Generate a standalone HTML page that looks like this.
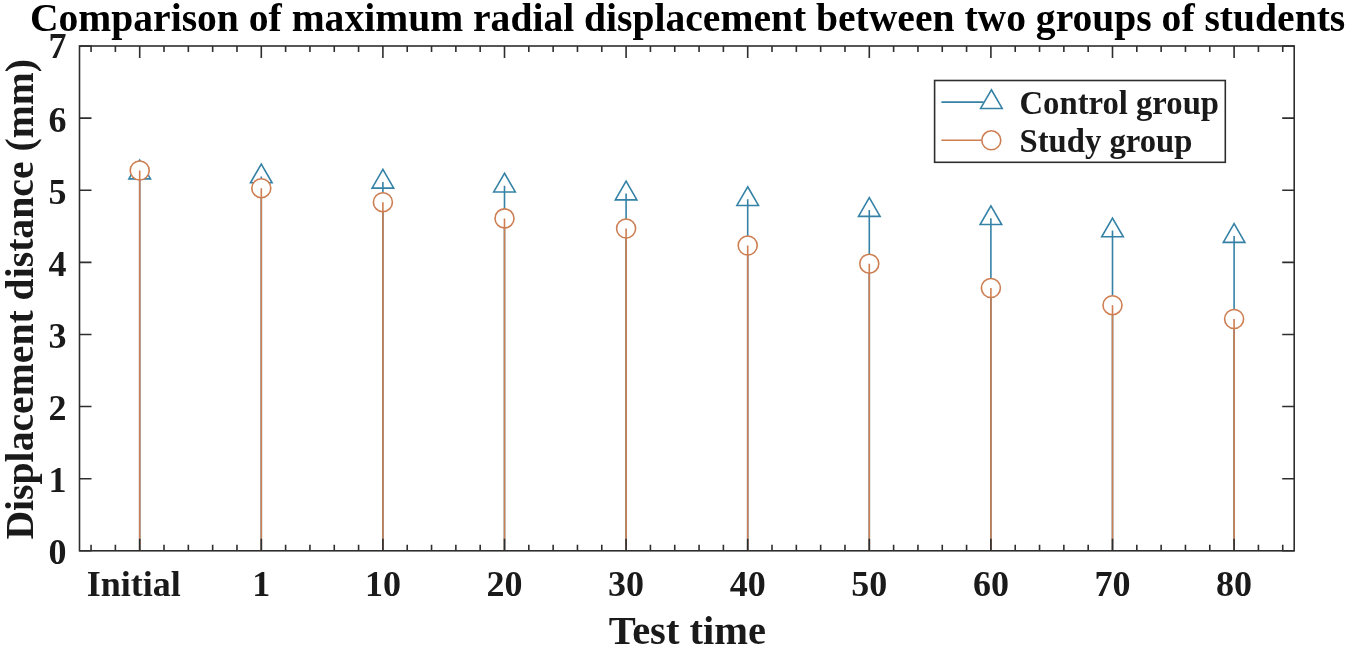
<!DOCTYPE html>
<html><head><meta charset="utf-8"><title>Comparison of maximum radial displacement</title>
<style>
html,body{margin:0;padding:0;background:#fff;width:1350px;height:649px;overflow:hidden}
svg{display:block;will-change:transform}
text{font-family:"Liberation Serif",serif;font-weight:bold}
</style></head><body>
<svg width="1350" height="649" viewBox="0 0 1350 649">
<path d="M139.70,160.13 L150.50,178.84 L128.90,178.84 Z" fill="#fff" stroke="#3582a6" stroke-width="1.6" stroke-linejoin="miter"/>
<path d="M261.30,164.03 L272.10,182.74 L250.50,182.74 Z" fill="#fff" stroke="#3582a6" stroke-width="1.6" stroke-linejoin="miter"/>
<path d="M382.90,169.43 L393.70,188.14 L372.10,188.14 Z" fill="#fff" stroke="#3582a6" stroke-width="1.6" stroke-linejoin="miter"/>
<path d="M504.50,173.23 L515.30,191.94 L493.70,191.94 Z" fill="#fff" stroke="#3582a6" stroke-width="1.6" stroke-linejoin="miter"/>
<path d="M626.10,181.13 L636.90,199.84 L615.30,199.84 Z" fill="#fff" stroke="#3582a6" stroke-width="1.6" stroke-linejoin="miter"/>
<path d="M747.70,186.73 L758.50,205.44 L736.90,205.44 Z" fill="#fff" stroke="#3582a6" stroke-width="1.6" stroke-linejoin="miter"/>
<path d="M869.30,197.63 L880.10,216.34 L858.50,216.34 Z" fill="#fff" stroke="#3582a6" stroke-width="1.6" stroke-linejoin="miter"/>
<path d="M990.90,205.83 L1001.70,224.54 L980.10,224.54 Z" fill="#fff" stroke="#3582a6" stroke-width="1.6" stroke-linejoin="miter"/>
<path d="M1112.50,218.03 L1123.30,236.74 L1101.70,236.74 Z" fill="#fff" stroke="#3582a6" stroke-width="1.6" stroke-linejoin="miter"/>
<path d="M1234.10,223.63 L1244.90,242.34 L1223.30,242.34 Z" fill="#fff" stroke="#3582a6" stroke-width="1.6" stroke-linejoin="miter"/>
<line x1="139.70" y1="550.80" x2="139.70" y2="172.60" stroke="#3582a6" stroke-width="1.6"/>
<line x1="261.30" y1="550.80" x2="261.30" y2="176.50" stroke="#3582a6" stroke-width="1.6"/>
<line x1="382.90" y1="550.80" x2="382.90" y2="181.90" stroke="#3582a6" stroke-width="1.6"/>
<line x1="504.50" y1="550.80" x2="504.50" y2="185.70" stroke="#3582a6" stroke-width="1.6"/>
<line x1="626.10" y1="550.80" x2="626.10" y2="193.60" stroke="#3582a6" stroke-width="1.6"/>
<line x1="747.70" y1="550.80" x2="747.70" y2="199.20" stroke="#3582a6" stroke-width="1.6"/>
<line x1="869.30" y1="550.80" x2="869.30" y2="210.10" stroke="#3582a6" stroke-width="1.6"/>
<line x1="990.90" y1="550.80" x2="990.90" y2="218.30" stroke="#3582a6" stroke-width="1.6"/>
<line x1="1112.50" y1="550.80" x2="1112.50" y2="230.50" stroke="#3582a6" stroke-width="1.6"/>
<line x1="1234.10" y1="550.80" x2="1234.10" y2="236.10" stroke="#3582a6" stroke-width="1.6"/>
<circle cx="139.70" cy="170.50" r="9.5" fill="#fff" stroke="#cd7e52" stroke-width="1.6"/>
<circle cx="261.30" cy="188.20" r="9.5" fill="#fff" stroke="#cd7e52" stroke-width="1.6"/>
<circle cx="382.90" cy="202.20" r="9.5" fill="#fff" stroke="#cd7e52" stroke-width="1.6"/>
<circle cx="504.50" cy="218.40" r="9.5" fill="#fff" stroke="#cd7e52" stroke-width="1.6"/>
<circle cx="626.10" cy="228.50" r="9.5" fill="#fff" stroke="#cd7e52" stroke-width="1.6"/>
<circle cx="747.70" cy="245.50" r="9.5" fill="#fff" stroke="#cd7e52" stroke-width="1.6"/>
<circle cx="869.30" cy="263.70" r="9.5" fill="#fff" stroke="#cd7e52" stroke-width="1.6"/>
<circle cx="990.90" cy="288.00" r="9.5" fill="#fff" stroke="#cd7e52" stroke-width="1.6"/>
<circle cx="1112.50" cy="305.20" r="9.5" fill="#fff" stroke="#cd7e52" stroke-width="1.6"/>
<circle cx="1234.10" cy="319.00" r="9.5" fill="#fff" stroke="#cd7e52" stroke-width="1.6"/>
<line x1="139.70" y1="550.80" x2="139.70" y2="170.50" stroke="#cd7e52" stroke-width="1.6"/>
<line x1="261.30" y1="550.80" x2="261.30" y2="188.20" stroke="#cd7e52" stroke-width="1.6"/>
<line x1="382.90" y1="550.80" x2="382.90" y2="202.20" stroke="#cd7e52" stroke-width="1.6"/>
<line x1="504.50" y1="550.80" x2="504.50" y2="218.40" stroke="#cd7e52" stroke-width="1.6"/>
<line x1="626.10" y1="550.80" x2="626.10" y2="228.50" stroke="#cd7e52" stroke-width="1.6"/>
<line x1="747.70" y1="550.80" x2="747.70" y2="245.50" stroke="#cd7e52" stroke-width="1.6"/>
<line x1="869.30" y1="550.80" x2="869.30" y2="263.70" stroke="#cd7e52" stroke-width="1.6"/>
<line x1="990.90" y1="550.80" x2="990.90" y2="288.00" stroke="#cd7e52" stroke-width="1.6"/>
<line x1="1112.50" y1="550.80" x2="1112.50" y2="305.20" stroke="#cd7e52" stroke-width="1.6"/>
<line x1="1234.10" y1="550.80" x2="1234.10" y2="319.00" stroke="#cd7e52" stroke-width="1.6"/>
<path d="M91.06,550.80v-6.0M91.06,46.00v6.0M115.38,550.80v-6.0M115.38,46.00v6.0M139.70,550.80v-12.0M139.70,46.00v12.0M164.02,550.80v-6.0M164.02,46.00v6.0M188.34,550.80v-6.0M188.34,46.00v6.0M212.66,550.80v-6.0M212.66,46.00v6.0M236.98,550.80v-6.0M236.98,46.00v6.0M261.30,550.80v-12.0M261.30,46.00v12.0M285.62,550.80v-6.0M285.62,46.00v6.0M309.94,550.80v-6.0M309.94,46.00v6.0M334.26,550.80v-6.0M334.26,46.00v6.0M358.58,550.80v-6.0M358.58,46.00v6.0M382.90,550.80v-12.0M382.90,46.00v12.0M407.22,550.80v-6.0M407.22,46.00v6.0M431.54,550.80v-6.0M431.54,46.00v6.0M455.86,550.80v-6.0M455.86,46.00v6.0M480.18,550.80v-6.0M480.18,46.00v6.0M504.50,550.80v-12.0M504.50,46.00v12.0M528.82,550.80v-6.0M528.82,46.00v6.0M553.14,550.80v-6.0M553.14,46.00v6.0M577.46,550.80v-6.0M577.46,46.00v6.0M601.78,550.80v-6.0M601.78,46.00v6.0M626.10,550.80v-12.0M626.10,46.00v12.0M650.42,550.80v-6.0M650.42,46.00v6.0M674.74,550.80v-6.0M674.74,46.00v6.0M699.06,550.80v-6.0M699.06,46.00v6.0M723.38,550.80v-6.0M723.38,46.00v6.0M747.70,550.80v-12.0M747.70,46.00v12.0M772.02,550.80v-6.0M772.02,46.00v6.0M796.34,550.80v-6.0M796.34,46.00v6.0M820.66,550.80v-6.0M820.66,46.00v6.0M844.98,550.80v-6.0M844.98,46.00v6.0M869.30,550.80v-12.0M869.30,46.00v12.0M893.62,550.80v-6.0M893.62,46.00v6.0M917.94,550.80v-6.0M917.94,46.00v6.0M942.26,550.80v-6.0M942.26,46.00v6.0M966.58,550.80v-6.0M966.58,46.00v6.0M990.90,550.80v-12.0M990.90,46.00v12.0M1015.22,550.80v-6.0M1015.22,46.00v6.0M1039.54,550.80v-6.0M1039.54,46.00v6.0M1063.86,550.80v-6.0M1063.86,46.00v6.0M1088.18,550.80v-6.0M1088.18,46.00v6.0M1112.50,550.80v-12.0M1112.50,46.00v12.0M1136.82,550.80v-6.0M1136.82,46.00v6.0M1161.14,550.80v-6.0M1161.14,46.00v6.0M1185.46,550.80v-6.0M1185.46,46.00v6.0M1209.78,550.80v-6.0M1209.78,46.00v6.0M1234.10,550.80v-12.0M1234.10,46.00v12.0M1258.42,550.80v-6.0M1258.42,46.00v6.0M1282.74,550.80v-6.0M1282.74,46.00v6.0M79.50,550.80h12.0M1294.20,550.80h-12.0M79.50,478.69h12.0M1294.20,478.69h-12.0M79.50,406.57h12.0M1294.20,406.57h-12.0M79.50,334.46h12.0M1294.20,334.46h-12.0M79.50,262.34h12.0M1294.20,262.34h-12.0M79.50,190.23h12.0M1294.20,190.23h-12.0M79.50,118.11h12.0M1294.20,118.11h-12.0M79.50,46.00h12.0M1294.20,46.00h-12.0" stroke="#2e2e2e" stroke-width="1.6" fill="none"/>
<rect x="79.50" y="46.00" width="1214.70" height="504.80" fill="none" stroke="#2e2e2e" stroke-width="1.6"/>
<text x="133.70" y="596.0" font-size="36" text-anchor="middle" fill="#1a1a1a">Initial</text>
<text x="261.30" y="596.0" font-size="36" text-anchor="middle" fill="#1a1a1a">1</text>
<text x="382.90" y="596.0" font-size="36" text-anchor="middle" fill="#1a1a1a">10</text>
<text x="504.50" y="596.0" font-size="36" text-anchor="middle" fill="#1a1a1a">20</text>
<text x="626.10" y="596.0" font-size="36" text-anchor="middle" fill="#1a1a1a">30</text>
<text x="747.70" y="596.0" font-size="36" text-anchor="middle" fill="#1a1a1a">40</text>
<text x="869.30" y="596.0" font-size="36" text-anchor="middle" fill="#1a1a1a">50</text>
<text x="990.90" y="596.0" font-size="36" text-anchor="middle" fill="#1a1a1a">60</text>
<text x="1112.50" y="596.0" font-size="36" text-anchor="middle" fill="#1a1a1a">70</text>
<text x="1234.10" y="596.0" font-size="36" text-anchor="middle" fill="#1a1a1a">80</text>
<text x="66.4" y="564.40" font-size="36" text-anchor="end" fill="#1a1a1a">0</text>
<text x="66.4" y="492.29" font-size="36" text-anchor="end" fill="#1a1a1a">1</text>
<text x="66.4" y="420.17" font-size="36" text-anchor="end" fill="#1a1a1a">2</text>
<text x="66.4" y="348.06" font-size="36" text-anchor="end" fill="#1a1a1a">3</text>
<text x="66.4" y="275.94" font-size="36" text-anchor="end" fill="#1a1a1a">4</text>
<text x="66.4" y="203.83" font-size="36" text-anchor="end" fill="#1a1a1a">5</text>
<text x="66.4" y="131.71" font-size="36" text-anchor="end" fill="#1a1a1a">6</text>
<text x="66.4" y="57.90" font-size="36" text-anchor="end" fill="#1a1a1a">7</text>
<text x="687.4" y="643.5" font-size="40.5" text-anchor="middle" fill="#1a1a1a">Test time</text>
<text transform="translate(32.5,299.3) rotate(-90)" x="0" y="0" font-size="39.7" text-anchor="middle" fill="#1a1a1a">Displacement distance (mm)</text>
<text transform="translate(687.6,30.7)" x="0" y="0" font-size="39.6" text-anchor="middle" fill="#000">Comparison of maximum radial displacement between two groups of students</text>
<rect x="934.6" y="80.5" width="290.70" height="81.80" fill="#fff" stroke="#2e2e2e" stroke-width="1.6"/>
<line x1="941.4" y1="102.1" x2="983.6" y2="102.1" stroke="#3582a6" stroke-width="1.6"/>
<path d="M991.40,89.73 L1002.20,108.44 L980.60,108.44 Z" fill="#fff" stroke="#3582a6" stroke-width="1.6"/>
<line x1="941.4" y1="140.3" x2="981.8" y2="140.3" stroke="#cd7e52" stroke-width="1.6"/>
<circle cx="991.3" cy="140.3" r="9.5" fill="#fff" stroke="#cd7e52" stroke-width="1.6"/>
<text x="1019.5" y="114.3" font-size="32.7" fill="#1a1a1a">Control group</text>
<text x="1019.5" y="151.7" font-size="32.7" fill="#1a1a1a">Study group</text>
</svg>
</body></html>
